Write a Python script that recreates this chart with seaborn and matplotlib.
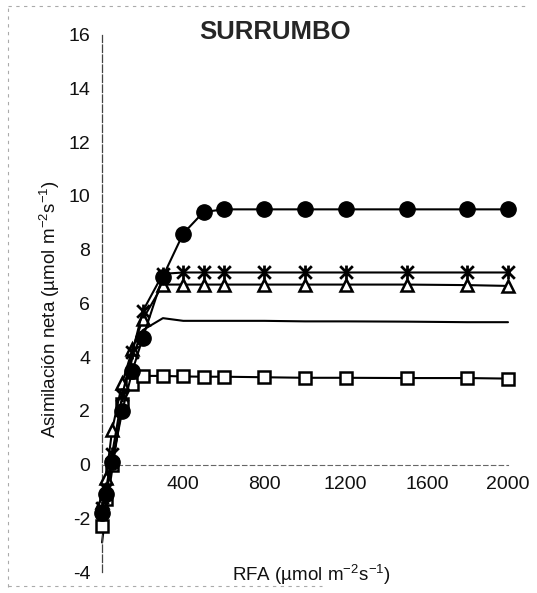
import matplotlib
matplotlib.use('Agg')
import matplotlib.pyplot as plt
import seaborn as sns
from matplotlib.path import Path
from matplotlib.lines import Line2D

# ---- data ----
rfa = [0, 20, 50, 100, 150, 200, 300, 400, 500, 600, 800, 1000, 1200, 1500, 1800, 2000]
circulo = [-1.8, -1.1, 0.1, 2.0, 3.5, 4.7, 7.0, 8.6, 9.4, 9.5, 9.5, 9.5, 9.5, 9.5, 9.5, 9.5]
asterisco = [-1.6, -0.9, 0.4, 2.6, 4.2, 5.7, 7.1, 7.15, 7.15, 7.15, 7.15, 7.15, 7.15, 7.15, 7.15, 7.15]
triangulo = [-1.4, -0.5, 1.3, 3.05, 4.3, 5.4, 6.7, 6.7, 6.7, 6.7, 6.7, 6.7, 6.7, 6.7, 6.68, 6.65]
cuadrado = [-2.3, -1.3, 0.0, 2.25, 3.0, 3.3, 3.3, 3.28, 3.27, 3.27, 3.25, 3.23, 3.23, 3.22, 3.22, 3.2]
linea = [-2.9, -1.7, -0.2, 2.3, 4.0, 5.0, 5.45, 5.35, 5.35, 5.35, 5.35, 5.33, 5.33, 5.32, 5.3, 5.3]

x_ticks = [400, 800, 1200, 1600, 2000]
y_ticks = [-4, -2, 0, 2, 4, 6, 8, 10, 12, 14, 16]
titulo = 'SURRUMBO'
x_label = 'RFA (µmol m$^{-2}$s$^{-1}$)'
y_label = 'Asimilación neta (µmol m$^{-2}$s$^{-1}$)'

# ---- style ----
sns.set_style('white')
plt.rcParams['font.family'] = ['Liberation Sans', 'DejaVu Sans']
plt.rcParams['mathtext.fontset'] = 'custom'
plt.rcParams['mathtext.rm'] = 'Liberation Sans'
plt.rcParams['axes.unicode_minus'] = False

fig = plt.figure(figsize=(5.37, 5.93), dpi=100)
ax = fig.add_axes([0.190, 0.0354, 0.756, 0.906])

star = Path([(-1, -1), (1, 1), (-1, 1), (1, -1), (0, -1.1), (0, 1.1)],
            [Path.MOVETO, Path.LINETO, Path.MOVETO, Path.LINETO, Path.MOVETO, Path.LINETO])

common = dict(ax=ax, color='k', linewidth=1.5, clip_on=False)
sns.lineplot(x=rfa, y=linea, **common, zorder=2)
sns.lineplot(x=rfa, y=cuadrado, marker='s', markersize=9, markerfacecolor='white',
             markeredgecolor='k', markeredgewidth=1.8, **common, zorder=3)
sns.lineplot(x=rfa, y=triangulo, marker='^', markersize=9, markerfacecolor='white',
             markeredgecolor='k', markeredgewidth=1.8, **common, zorder=4)
sns.lineplot(x=rfa, y=asterisco, marker=star, markersize=10, markerfacecolor='none',
             markeredgecolor='k', markeredgewidth=2.0, **common, zorder=5)
sns.lineplot(x=rfa, y=circulo, marker='o', markersize=11, markerfacecolor='k',
             markeredgecolor='k', markeredgewidth=1.0, **common, zorder=6)

ax.set_xlim(0, 2000)
ax.set_ylim(-4, 16)
ax.set_xticks(x_ticks)
ax.set_yticks(y_ticks)

for s in ['top', 'right']:
    ax.spines[s].set_visible(False)
ax.spines['bottom'].set_position(('data', 0))
ax.spines['bottom'].set_color('#666666')
ax.spines['bottom'].set_linewidth(0.8)
ax.spines['bottom'].set_linestyle((0, (4, 3)))
ax.spines['left'].set_color('#444444')
ax.spines['left'].set_linewidth(0.9)
ax.spines['left'].set_linestyle((0, (6, 2)))

ax.tick_params(axis='both', direction='inout', length=7, width=0.8, color='#444444',
               labelsize=14, labelcolor='#111111')
ax.tick_params(axis='x', pad=5)
ax.tick_params(axis='y', pad=5)

ax.set_xlabel(x_label, fontsize=13.5, color='#111111')
ax.xaxis.set_label_coords(0.515, 0.018)
ax.set_ylabel(y_label, fontsize=13.5, color='#111111')
ax.yaxis.set_label_coords(-0.098, 0.49)

ax.text(850, 16.1, titulo, ha='center', va='center', fontsize=18.5, fontweight='bold')

# faint scanned frame
fig.add_artist(Line2D([0.015, 0.985], [0.99, 0.99], transform=fig.transFigure,
                      color='#aaaaaa', lw=0.8, ls=(0, (3, 4))))
fig.add_artist(Line2D([0.015, 0.015], [0.01, 0.99], transform=fig.transFigure,
                      color='#aaaaaa', lw=0.8, ls=(0, (3, 4))))
fig.add_artist(Line2D([0.015, 0.6], [0.012, 0.012], transform=fig.transFigure,
                      color='#aaaaaa', lw=0.8, ls=(0, (3, 4))))

fig.savefig('out.png', dpi=100)
